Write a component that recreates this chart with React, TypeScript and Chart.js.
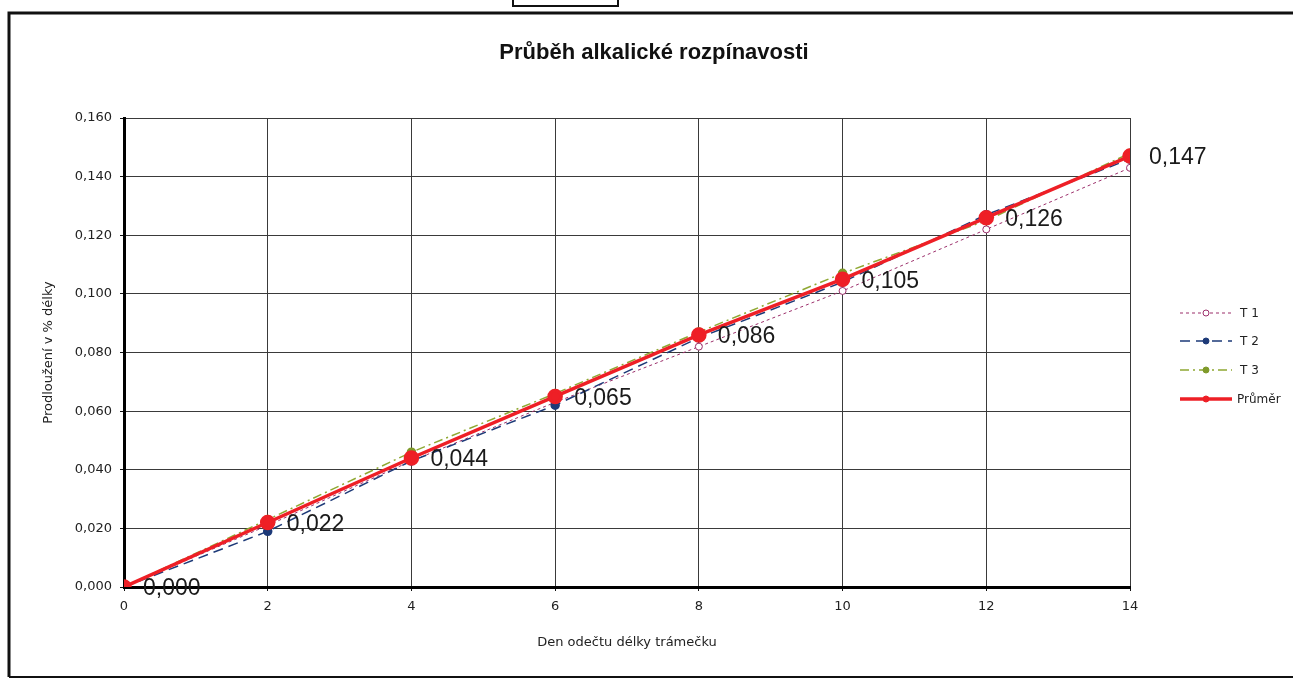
import React, { useEffect, useRef } from "react";
import { Chart, registerables } from "chart.js";

Chart.register(...registerables);

const days = [0, 2, 4, 6, 8, 10, 12, 14];
const t1 = [0, 0.021, 0.043, 0.063, 0.082, 0.101, 0.122, 0.143];
const t2 = [0, 0.019, 0.043, 0.062, 0.085, 0.104, 0.127, 0.146];
const t3 = [0, 0.023, 0.046, 0.066, 0.087, 0.107, 0.125, 0.148];
const prumer = [0, 0.022, 0.044, 0.065, 0.086, 0.105, 0.126, 0.147];
const seriesNames = ["T 1", "T 2", "T 3", "Průměr"];
const titleText = "Průběh alkalické rozpínavosti";
const xTitle = "Den odečtu délky trámečku";
const yTitle = "Prodloužení v % délky";

const FONT = "'Liberation Sans', Arial, sans-serif";
const AXFONT = "'DejaVu Sans', Verdana, sans-serif";
const fmt = (v: number) => v.toFixed(3).replace(".", ",");
const pts = (arr: number[]) => arr.map((y, i) => ({ x: days[i], y }));

const framePlugin = {
  id: "frame",
  beforeDraw(chart: any) {
    const ctx = chart.ctx;
    ctx.save();
    ctx.fillStyle = "#ffffff";
    ctx.fillRect(0, 0, chart.width, chart.height);
    ctx.strokeStyle = "#111";
    ctx.lineWidth = 3;
    ctx.beginPath();
    ctx.moveTo(1293, 13);
    ctx.lineTo(9, 13);
    ctx.lineTo(9, 677);
    ctx.stroke();
    ctx.lineWidth = 2;
    ctx.beginPath();
    ctx.moveTo(9, 677);
    ctx.lineTo(1293, 677);
    ctx.stroke();
    ctx.lineWidth = 2;
    ctx.strokeRect(513, -4, 105, 10);
    ctx.restore();
  },
};

const titlePlugin = {
  id: "customTitle",
  afterDraw(chart: any) {
    const ctx = chart.ctx;
    ctx.save();
    ctx.font = `bold 22px ${FONT}`;
    ctx.fillStyle = "#111";
    ctx.textAlign = "center";
    ctx.textBaseline = "middle";
    ctx.fillText(titleText, 654, 53);
    ctx.restore();
  },
};

const labelPlugin = {
  id: "avgLabels",
  afterDatasetsDraw(chart: any) {
    const meta = chart.getDatasetMeta(3);
    const ds = chart.data.datasets[3];
    const ctx = chart.ctx;
    ctx.save();
    ctx.font = `23px ${FONT}`;
    ctx.fillStyle = "#1a1a1a";
    ctx.textAlign = "left";
    ctx.textBaseline = "middle";
    meta.data.forEach((p: any, i: number) => {
      ctx.fillText(fmt(ds.data[i].y), p.x + 19, p.y + 2);
    });
    ctx.restore();
  },
};

const legendPlugin = {
  id: "customLegend",
  afterDraw(chart: any) {
    const ctx = chart.ctx;
    const ys = [313, 341, 370, 399];
    ctx.save();
    chart.data.datasets.forEach((ds: any, i: number) => {
      const y = ys[i];
      ctx.strokeStyle = ds.borderColor;
      ctx.lineWidth = ds.borderWidth;
      ctx.setLineDash(ds.borderDash || []);
      ctx.beginPath();
      ctx.moveTo(1180, y);
      ctx.lineTo(1232, y);
      ctx.stroke();
      ctx.setLineDash([]);
      ctx.beginPath();
      ctx.arc(1206, y, 3, 0, Math.PI * 2);
      ctx.fillStyle = ds.pointBackgroundColor;
      ctx.fill();
      ctx.lineWidth = 1;
      ctx.strokeStyle = ds.pointBorderColor;
      ctx.stroke();
      ctx.fillStyle = "#222";
      ctx.font = `12px ${AXFONT}`;
      ctx.textAlign = "left";
      ctx.textBaseline = "middle";
      ctx.fillText(ds.label, i === 3 ? 1237 : 1240, y + 1);
    });
    ctx.restore();
  },
};

export default function App() {
  const ref = useRef<HTMLCanvasElement | null>(null);
  useEffect(() => {
    document.body.style.margin = "0";
    if (!ref.current) return;
    const chart = new Chart(ref.current, {
      type: "line",
      data: {
        datasets: [
          {
            label: seriesNames[0],
            data: pts(t1),
            borderColor: "#9c2f6b",
            borderWidth: 1,
            borderDash: [3, 3],
            pointRadius: 3.5,
            pointBackgroundColor: "#ffffff",
            pointBorderColor: "#9c2f6b",
            pointBorderWidth: 1,
            order: 3,
          },
          {
            label: seriesNames[1],
            data: pts(t2),
            borderColor: "#1d3a78",
            borderWidth: 1.5,
            borderDash: [10, 6],
            pointRadius: 4,
            pointBackgroundColor: "#1d3a78",
            pointBorderColor: "#1d3a78",
            order: 2,
          },
          {
            label: seriesNames[2],
            data: pts(t3),
            borderColor: "#8fa832",
            borderWidth: 1.5,
            borderDash: [9, 4, 2, 4],
            pointRadius: 4,
            pointBackgroundColor: "#7f9a2a",
            pointBorderColor: "#7f9a2a",
            order: 1,
          },
          {
            label: seriesNames[3],
            data: pts(prumer),
            borderColor: "#ee1f26",
            borderWidth: 3.5,
            pointRadius: 6,
            pointBackgroundColor: "#ee1f26",
            pointBorderColor: "#ee1f26",
            order: 0,
          },
        ],
      },
      plugins: [framePlugin, titlePlugin, labelPlugin, legendPlugin],
      options: {
        animation: false,
        responsive: false,
        layout: { padding: { left: 30, right: 163, top: 118, bottom: 0 } },
        plugins: {
          legend: { display: false },
          title: { display: false },
          tooltip: { enabled: false },
        },
        scales: {
          x: {
            type: "linear",
            min: 0,
            max: 14,
            ticks: {
              stepSize: 2,
              padding: 8,
              color: "#222",
              font: { family: AXFONT, size: 13 },
            },
            grid: {
              color: "#3a3a3a",
              lineWidth: 1,
              tickLength: 4,
              tickColor: "#111",
            },
            border: { display: true, color: "#000", width: 3 },
            title: {
              display: true,
              text: xTitle,
              color: "#222",
              font: { family: AXFONT, size: 13 },
              padding: { top: 0, bottom: 29 },
            },
            afterFit: (scale: any) => {
              scale.height = 92;
            },
          },
          y: {
            type: "linear",
            min: 0,
            max: 0.16,
            ticks: {
              stepSize: 0.02,
              padding: 8,
              color: "#222",
              font: { family: AXFONT, size: 13 },
              callback: (v: any) => fmt(Number(v)),
            },
            grid: {
              color: "#3a3a3a",
              lineWidth: 1,
              tickLength: 4,
              tickColor: "#111",
            },
            border: { display: true, color: "#000", width: 3 },
            title: {
              display: true,
              text: yTitle,
              color: "#222",
              font: { family: AXFONT, size: 13 },
              padding: { top: 11, bottom: 0 },
            },
            afterFit: (scale: any) => {
              scale.width = 94;
            },
          },
        },
      },
    } as any);
    return () => chart.destroy();
  }, []);
  return <canvas ref={ref} width={1293} height={679} style={{ display: "block" }} />;
}
